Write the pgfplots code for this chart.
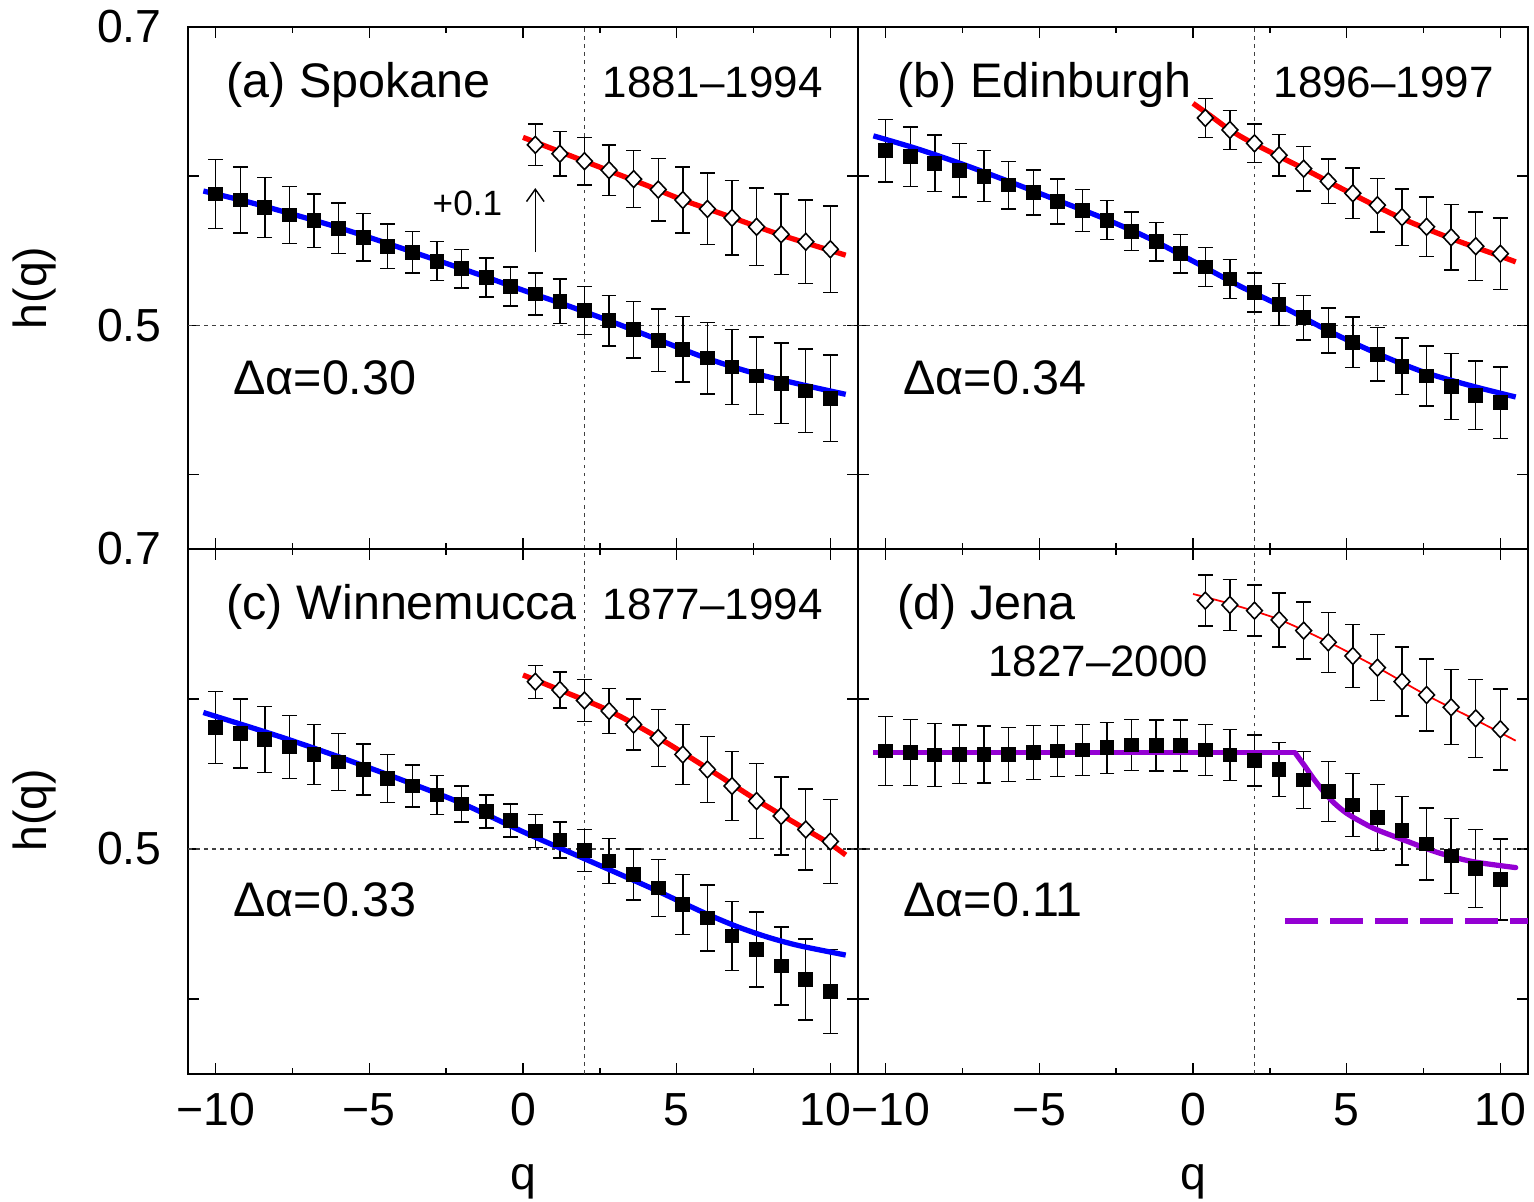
\documentclass[border=0pt]{standalone}
\usepackage{fontspec}
\setmainfont{Liberation Sans}
\usepackage{pgfplots}
\usepackage{pgfplotstable}
\pgfplotsset{compat=1.18}
\usetikzlibrary{arrows.meta}

\definecolor{fitblue}{RGB}{0,0,255}
\definecolor{fitred}{RGB}{255,0,0}
\definecolor{fitviolet}{RGB}{148,0,211}

\newcommand{\ticksize}{\fontsize{13.2}{16}\selectfont}
\newcommand{\txtsize}{\fontsize{13.8}{16}\selectfont}
\newcommand{\yrsize}{\fontsize{12.5}{15}\selectfont}

% --- (a) Spokane ---
\pgfplotstableread{
q h e
-10.0 0.588 0.023
-9.2 0.584 0.022
-8.4 0.579 0.020
-7.6 0.574 0.019
-6.8 0.570 0.018
-6.0 0.565 0.017
-5.2 0.559 0.016
-4.4 0.553 0.015
-3.6 0.549 0.014
-2.8 0.543 0.013
-2.0 0.538 0.013
-1.2 0.532 0.013
-0.4 0.526 0.013
0.4 0.521 0.014
1.2 0.516 0.015
2.0 0.510 0.016
2.8 0.503 0.017
3.6 0.497 0.019
4.4 0.490 0.021
5.2 0.484 0.022
6.0 0.478 0.024
6.8 0.472 0.025
7.6 0.466 0.026
8.4 0.461 0.027
9.2 0.456 0.028
10.0 0.451 0.029
}\sqA
\pgfplotstableread{
q h e
0.4 0.621 0.014
1.2 0.615 0.015
2.0 0.610 0.016
2.8 0.604 0.017
3.6 0.598 0.019
4.4 0.591 0.021
5.2 0.584 0.022
6.0 0.578 0.024
6.8 0.572 0.025
7.6 0.566 0.026
8.4 0.561 0.027
9.2 0.556 0.028
10.0 0.551 0.029
}\dmA
% --- (b) Edinburgh ---
\pgfplotstableread{
q h e
-10.0 0.617 0.021
-9.2 0.613 0.020
-8.4 0.6085 0.019
-7.6 0.604 0.018
-6.8 0.600 0.017
-6.0 0.594 0.016
-5.2 0.589 0.015
-4.4 0.583 0.015
-3.6 0.577 0.014
-2.8 0.5705 0.013
-2.0 0.563 0.013
-1.2 0.556 0.013
-0.4 0.548 0.013
0.4 0.539 0.013
1.2 0.531 0.013
2.0 0.522 0.013
2.8 0.514 0.014
3.6 0.505 0.015
4.4 0.4965 0.015
5.2 0.4885 0.017
6.0 0.4805 0.018
6.8 0.4725 0.019
7.6 0.466 0.020
8.4 0.459 0.022
9.2 0.453 0.023
10.0 0.448 0.024
}\sqB
\pgfplotstableread{
q h e
0.4 0.639 0.013
1.2 0.631 0.013
2.0 0.622 0.013
2.8 0.614 0.014
3.6 0.605 0.015
4.4 0.5965 0.015
5.2 0.5885 0.017
6.0 0.5805 0.018
6.8 0.5725 0.019
7.6 0.566 0.020
8.4 0.559 0.022
9.2 0.553 0.023
10.0 0.548 0.024
}\dmB
% --- (c) Winnemucca ---
\pgfplotstableread{
q h e
-10.0 0.581 0.024
-9.2 0.577 0.023
-8.4 0.573 0.022
-7.6 0.568 0.021
-6.8 0.563 0.020
-6.0 0.558 0.019
-5.2 0.553 0.017
-4.4 0.547 0.016
-3.6 0.542 0.014
-2.8 0.536 0.013
-2.0 0.530 0.012
-1.2 0.525 0.011
-0.4 0.519 0.011
0.4 0.512 0.011
1.2 0.506 0.012
2.0 0.499 0.014
2.8 0.492 0.015
3.6 0.483 0.017
4.4 0.474 0.019
5.2 0.463 0.020
6.0 0.454 0.022
6.8 0.442 0.023
7.6 0.433 0.025
8.4 0.422 0.026
9.2 0.413 0.027
10.0 0.405 0.028
}\sqC
\pgfplotstableread{
q h e
0.4 0.6115 0.011
1.2 0.606 0.012
2.0 0.599 0.014
2.8 0.592 0.015
3.6 0.583 0.017
4.4 0.574 0.019
5.2 0.563 0.020
6.0 0.553 0.022
6.8 0.542 0.023
7.6 0.532 0.025
8.4 0.522 0.026
9.2 0.513 0.027
10.0 0.505 0.028
}\dmC
% --- (d) Jena ---
\pgfplotstableread{
q h e
-10.0 0.5653 0.023
-9.2 0.5644 0.022
-8.4 0.5627 0.021
-7.6 0.5631 0.0195
-6.8 0.5631 0.019
-6.0 0.5631 0.018
-5.2 0.5644 0.018
-4.4 0.5653 0.017
-3.6 0.5660 0.017
-2.8 0.5675 0.017
-2.0 0.5693 0.017
-1.2 0.5689 0.017
-0.4 0.5689 0.017
0.4 0.5660 0.017
1.2 0.5627 0.017
2.0 0.5589 0.017
2.8 0.5531 0.018
3.6 0.5460 0.019
4.4 0.5382 0.020
5.2 0.5293 0.021
6.0 0.5211 0.022
6.8 0.5122 0.023
7.6 0.5033 0.024
8.4 0.4953 0.025
9.2 0.4871 0.026
10.0 0.4798 0.027
}\sqD
\pgfplotstableread{
q h e
0.4 0.6656 0.017
1.2 0.6627 0.017
2.0 0.6589 0.017
2.8 0.6527 0.018
3.6 0.6456 0.019
4.4 0.6378 0.020
5.2 0.6287 0.021
6.0 0.6209 0.022
6.8 0.6116 0.023
7.6 0.6027 0.024
8.4 0.5945 0.025
9.2 0.5871 0.026
10.0 0.5798 0.027
}\dmD

\pgfplotsset{
  panel/.style={
    scale only axis, width=6.70cm,
    xmin=-10.9, xmax=10.9, ymin=0.35, ymax=0.7,
    axis line style={line width=0.4pt, black},
    xtick={-10,-5,0,5,10}, minor xtick={-7.5,-2.5,2.5,7.5},
    ytick={0.4,0.5,0.6,0.7},
    xticklabels={}, yticklabels={},
    tick align=inside, major tick length=0.11cm, minor tick length=0.06cm,
    tick style={line width=0.4pt, black},
    tick label style={font=\ticksize},
    yticklabel style={xshift=-4pt},
    xticklabel style={yshift=-2pt},
  },
  sq/.style={only marks, mark=square*, mark size=1.9pt, black,
    error bars/y dir=both, error bars/y explicit,
    error bars/error bar style={line width=0.4pt, black},
    error bars/error mark options={rotate=90, black, mark size=2.1pt, line width=0.4pt}},
  dm/.style={only marks, mark=diamond*, mark size=2.4pt, black,
    mark options={fill=white, draw=black, line width=0.45pt, xscale=1.25},
    error bars/y dir=both, error bars/y explicit,
    error bars/error bar style={line width=0.4pt, black},
    error bars/error mark options={rotate=90, black, mark size=2.1pt, line width=0.4pt}},
  fit/.style={line width=1.5pt, smooth, no marks},
  refl/.style={black!75, line width=0.4pt, dash pattern=on 1pt off 1.3pt, no marks},
}

\begin{document}
\begin{tikzpicture}
\path[use as bounding box] (0,0) rectangle (15.34cm,-12.02cm);

% (a)
\begin{axis}[panel, at={(1.88cm,-0.27cm)}, anchor=north west, height=5.22cm,
  yticklabels={,0.5,,0.7}]
\addplot[refl] coordinates {(2,0.35) (2,0.7)};
\addplot[refl] coordinates {(-10.9,0.5) (10.9,0.5)};
\addplot[sq] table[x=q,y=h,y error=e] {\sqA};
\addplot[dm] table[x=q,y=h,y error=e] {\dmA};
\addplot[fit, fitblue] coordinates {(-10.4,0.590) (-9,0.583) (-7.5,0.5745) (-6,0.5655) (-4.5,0.5555) (-3,0.545) (-1.5,0.5345) (0,0.5235) (1.5,0.5128) (3,0.5015) (4.5,0.4895) (6,0.4777) (7.5,0.468) (9,0.4605) (10.5,0.4537)};
\addplot[fit, fitred] coordinates {(0,0.626) (1,0.618) (2,0.610) (3,0.602) (4,0.594) (5.2,0.584) (6.5,0.5745) (8.4,0.5605) (10.5,0.547)};
\draw[-{Straight Barb[length=3.5pt,width=5pt]}, line width=0.4pt] (axis cs:0.4,0.549) -- (axis cs:0.4,0.592);
\node[anchor=base west, font=\fontsize{10}{12}\selectfont, inner sep=0pt] at (axis cs:-2.96,0.5738) {+0.1};
\node[anchor=base west, font=\txtsize, inner sep=0pt] at (axis cs:-9.67,0.6526) {(a) Spokane};
\node[anchor=base east, font=\yrsize, inner sep=0pt] at (axis cs:9.77,0.6526) {1881–1994};
\node[anchor=base west, font=\txtsize, inner sep=0pt] at (axis cs:-9.45,0.4537) {Δα=0.30};
\end{axis}

% (b)
\begin{axis}[panel, at={(8.58cm,-0.27cm)}, anchor=north west, height=5.22cm]
\addplot[refl] coordinates {(2,0.35) (2,0.7)};
\addplot[refl] coordinates {(-10.9,0.5) (10.9,0.5)};
\addplot[sq] table[x=q,y=h,y error=e] {\sqB};
\addplot[dm] table[x=q,y=h,y error=e] {\dmB};
\addplot[fit, fitblue] coordinates {(-10.4,0.627) (-9,0.6185) (-7.5,0.608) (-6,0.5965) (-4.5,0.5845) (-3,0.5725) (-1.5,0.559) (0,0.543) (1.5,0.5265) (3,0.5115) (4.5,0.4953) (6,0.481) (7.5,0.4687) (9,0.4597) (10.5,0.4519)};
\addplot[fit, fitred] coordinates {(0,0.6488) (0.6,0.640) (1.2,0.631) (2,0.6215) (3.6,0.605) (5.2,0.5878) (6.8,0.5716) (8.4,0.5582) (10,0.5463) (10.5,0.5425)};
\node[anchor=base west, font=\txtsize, inner sep=0pt] at (axis cs:-9.64,0.6526) {(b) Edinburgh};
\node[anchor=base east, font=\yrsize, inner sep=0pt] at (axis cs:9.80,0.6526) {1896–1997};
\node[anchor=base west, font=\txtsize, inner sep=0pt] at (axis cs:-9.45,0.4537) {Δα=0.34};
\end{axis}

% (c)
\begin{axis}[panel, at={(1.88cm,-5.49cm)}, anchor=north west, height=5.25cm,
  yticklabels={,0.5,,0.7}, xticklabels={−10,−5,0,5,10\kern3pt}]
\addplot[refl] coordinates {(2,0.35) (2,0.7)};
\addplot[refl] coordinates {(-10.9,0.5) (10.9,0.5)};
\addplot[sq] table[x=q,y=h,y error=e] {\sqC};
\addplot[dm] table[x=q,y=h,y error=e] {\dmC};
\addplot[fit, fitblue] coordinates {(-10.4,0.591) (-8,0.5755) (-6,0.5615) (-4,0.5465) (-2,0.5305) (0,0.5115) (2,0.4935) (4,0.4755) (5,0.466) (6,0.4565) (7,0.448) (8,0.441) (9,0.4355) (10.5,0.4293)};
\addplot[fit, fitred] coordinates {(0,0.616) (1.2,0.606) (2.8,0.5922) (4.4,0.5742) (6,0.5538) (7.6,0.5327) (9.2,0.5131) (10,0.5033) (10.5,0.496)};
\node[anchor=base west, font=\txtsize, inner sep=0pt] at (axis cs:-9.67,0.6529) {(c) Winnemucca};
\node[anchor=base east, font=\yrsize, inner sep=0pt] at (axis cs:9.77,0.6529) {1877–1994};
\node[anchor=base west, font=\txtsize, inner sep=0pt] at (axis cs:-9.45,0.4553) {Δα=0.33};
\end{axis}

% (d)
\begin{axis}[panel, at={(8.58cm,-5.49cm)}, anchor=north west, height=5.25cm,
  xticklabels={\kern3pt−10,−5,0,5,10}]
\addplot[refl] coordinates {(2,0.35) (2,0.7)};
\addplot[refl] coordinates {(-10.9,0.5) (10.9,0.5)};
\addplot[sq] table[x=q,y=h,y error=e] {\sqD};
\addplot[dm] table[x=q,y=h,y error=e] {\dmD};
\addplot[no marks, fitviolet, line width=1.5pt] coordinates {(-10.4,0.5642) (3.32,0.5642)};
\addplot[fit, fitviolet, line cap=round] coordinates {(3.32,0.5642) (3.45,0.5605) (3.65,0.5549) (3.9,0.5475) (4.25,0.5382) (4.6,0.5305) (5.0,0.5238) (5.5,0.5178) (6.0,0.5127) (7.0,0.5049) (8.0,0.4974) (9.1,0.4916) (10.5,0.4876)};
\addplot[no marks, fitviolet, line width=1.5pt, dash pattern=on 9.4pt off 3.4pt] coordinates {(3.0,0.452) (10.9,0.452)};
\addplot[no marks, smooth, fitred, line width=0.5pt] coordinates {(0,0.670) (1.2,0.6635) (2.8,0.653) (4.4,0.638) (6.0,0.621) (7.6,0.6025) (9.2,0.586) (10.5,0.5722)};
\node[anchor=base west, font=\txtsize, inner sep=0pt] at (axis cs:-9.64,0.6529) {(d) Jena};
\node[anchor=base west, font=\yrsize, inner sep=0pt] at (axis cs:-6.68,0.6149) {1827–2000};
\node[anchor=base west, font=\txtsize, inner sep=0pt] at (axis cs:-9.45,0.4553) {Δα=0.11};
\end{axis}

% axis titles
\node[rotate=90, font=\ticksize] at (0.35cm,-2.88cm) {h(q)};
\node[rotate=90, font=\ticksize] at (0.35cm,-8.10cm) {h(q)};
\node[anchor=base, font=\ticksize, inner sep=0pt] at (5.23cm,-11.89cm) {q};
\node[anchor=base, font=\ticksize, inner sep=0pt] at (11.93cm,-11.89cm) {q};
\end{tikzpicture}
\end{document}
